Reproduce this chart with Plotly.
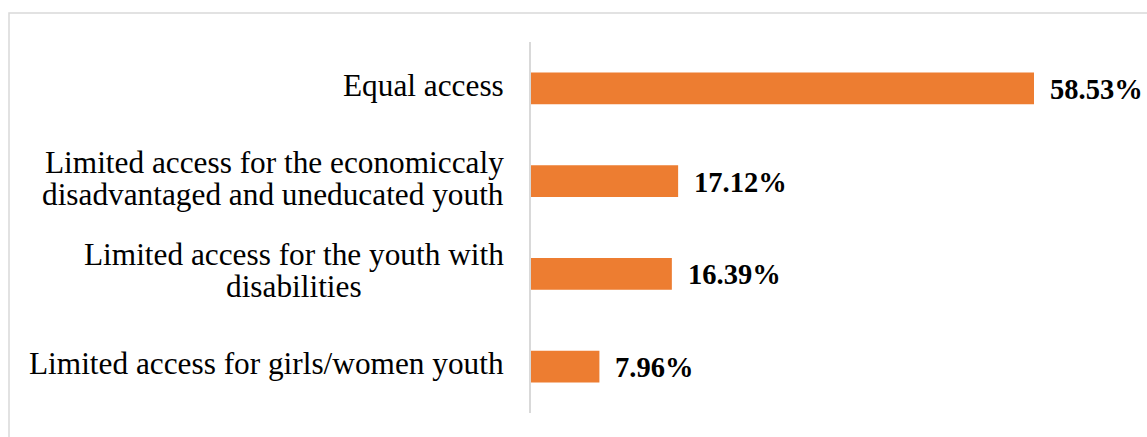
import plotly.graph_objects as go

# Survey responses: perceived access for youth
categories = [
    "Equal access",
    "Limited access for the economiccaly<br>disadvantaged and uneducated youth",
    "Limited access for the youth with<br>disabilities",
    "Limited access for girls/women youth",
]
values = [58.53, 17.12, 16.39, 7.96]
value_labels = ["58.53%", "17.12%", "16.39%", "7.96%"]

BAR_COLOR = "#ED7D31"
FONT = "Liberation Serif, Times New Roman, serif"
W, H = 1147, 437
ML, MR, MT, MB = 531, 16, 42, 24
PLOT_W = W - ML - MR
PLOT_H = H - MT - MB
PX_PER_UNIT = 503 / 58.53
LINE_GAP = 32  # px between lines of a wrapped category label
LABEL_RIGHT = 506  # right edge of category labels, px
LABEL_SIZE = 31.3

fig = go.Figure(
    go.Bar(
        x=values,
        y=categories,
        orientation="h",
        marker=dict(color=BAR_COLOR, line=dict(width=0)),
        hoverinfo="skip",
    )
)

annotations = []
# category labels, one annotation per line so the line spacing stays tight
for cat in categories:
    lines = cat.split("<br>")
    n = len(lines)
    for j, line in enumerate(lines):
        shift = 3 + (n - 1) / 2 * LINE_GAP - j * LINE_GAP
        if j > 0 and cat.startswith("Limited access for the youth with"):
            # second line centred under the first
            annotations.append(dict(
                x=(294 - ML) / PLOT_W, xref="paper", y=cat, yref="y",
                text=line, showarrow=False, xanchor="center", yanchor="middle",
                yshift=shift, font=dict(family=FONT, size=LABEL_SIZE, color="#000000"),
            ))
        else:
            annotations.append(dict(
                x=(LABEL_RIGHT - ML) / PLOT_W, xref="paper", y=cat, yref="y",
                text=line, showarrow=False, xanchor="right", yanchor="middle",
                yshift=shift, font=dict(family=FONT, size=LABEL_SIZE, color="#000000"),
            ))

# value labels beside each bar
for cat, v, lab in zip(categories, values, value_labels):
    annotations.append(dict(
        x=v, xref="x", y=cat, yref="y", text="<b>" + lab + "</b>",
        showarrow=False, xanchor="left", yanchor="middle", xshift=14, yshift=-1,
        font=dict(family=FONT, size=28.5, color="#000000"),
    ))

# light frame around the chart
frame = dict(
    type="rect", xref="paper", yref="paper",
    x0=(9 - ML) / PLOT_W, x1=(W + 5 - ML) / PLOT_W,
    y0=-(MB + 5) / PLOT_H, y1=(H - MB - 13) / PLOT_H,
    line=dict(color="#d9d9d9", width=1.5), fillcolor="rgba(0,0,0,0)", layer="below",
)

fig.update_layout(
    width=W, height=H,
    margin=dict(l=ML, r=MR, t=MT, b=MB),
    paper_bgcolor="white", plot_bgcolor="white",
    bargap=0.655,
    showlegend=False,
    annotations=annotations,
    shapes=[frame],
    xaxis=dict(range=[0, PLOT_W / PX_PER_UNIT], visible=False, fixedrange=True),
    yaxis=dict(
        autorange="reversed", showticklabels=False, ticks="",
        showgrid=False, zeroline=False,
        showline=True, linecolor="#d9d9d9", linewidth=1.5, fixedrange=True,
    ),
)

fig.write_html("out.html", config={"displayModeBar": False})
